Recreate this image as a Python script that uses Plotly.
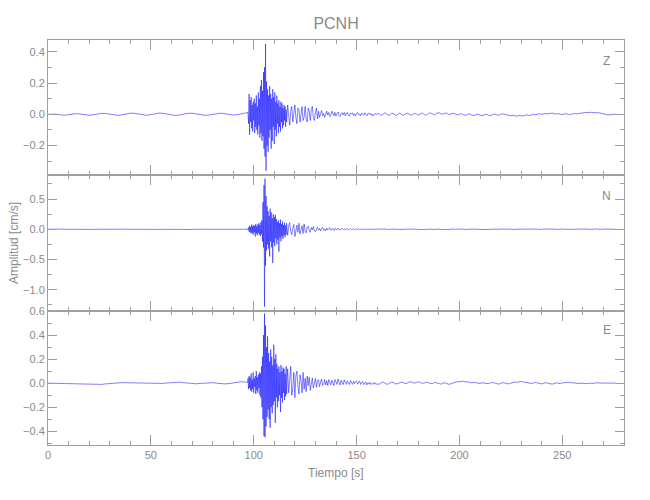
import numpy as np
import plotly.graph_objects as go
from plotly.subplots import make_subplots

# Sampling segments of the record: (start time [s], sample interval [s])
SEG_PRE = (0.0, 2.0)
SEG_MAIN = (96.25, 0.25)
SEG_CODA = (116.5, 0.5)
SEG_TAIL = (161.0, 1.0)

STATION = "PCNH"
COMPONENTS = ["Z", "N", "E"]
X_TICKS = [0, 50, 100, 150, 200, 250]

# ---------------- Z component (cm/s) ----------------
z_pre = [0.000, 0.002, 0.001, -0.003, -0.006, -0.002, 0.003, 0.004, 0.001, -0.004,
         -0.006, -0.003, 0.002, 0.006, 0.005, 0.000, -0.005, -0.007, -0.003, 0.003,
         0.007, 0.006, 0.001, -0.004, -0.006, -0.002, 0.004, 0.008, 0.006, 0.000,
         -0.005, -0.008, -0.004, 0.002, 0.006, 0.007, 0.003, -0.003, -0.006, -0.005,
         0.000, 0.005, 0.007, 0.004, -0.002, -0.005, -0.003, 0.004, 0.010]
z_main = [0.008, 0.010, 0.006, 0.012, 0.004, -0.06, 0.13, -0.13, 0.09, -0.05,
          0.11, -0.09, 0.06, -0.11, 0.08, -0.04, 0.10, -0.12, 0.07, -0.08,
          0.12, -0.10, 0.05, -0.13, 0.14, -0.07, 0.10, -0.15, 0.18, -0.12,
          0.22, -0.17, 0.15, -0.14, 0.27, -0.22, 0.30, -0.27, 0.45, -0.36,
          0.21, -0.20, 0.16, -0.24, 0.12, -0.15, 0.18, -0.10, 0.13, -0.22,
          0.10, -0.17, 0.16, -0.08, 0.11, -0.19, 0.14, -0.10, 0.08, -0.14,
          0.12, -0.06, 0.07, -0.12, 0.09, -0.08, 0.05, -0.11, 0.08, -0.05,
          0.07, -0.09, 0.04, -0.07, 0.06, -0.04, 0.05, -0.08, 0.03, -0.05]
z_coda = [0.06, -0.03, -0.07, 0.02, 0.05, -0.05, 0.01, 0.06, -0.02, -0.06,
          0.04, 0.03, -0.05, 0.00, 0.05, -0.04, -0.02, 0.05,
          -0.03, -0.05, 0.04, 0.02, -0.04, 0.03, 0.05, -0.02, -0.04, 0.01,
          0.04, -0.03, 0.02, -0.02,
          0.015, 0.025, -0.01, 0.005, -0.02, 0.01, 0.02, -0.005, 0.012, -0.015,
          -0.005, 0.02, 0.008, -0.01, 0.012, -0.012, 0.005, 0.015, -0.008, -0.015,
          0.006, 0.01, -0.004, 0.012, -0.01, 0.004,
          0.012, -0.006, -0.012, 0.008, 0.002, 0.01, -0.008, 0.004, -0.01, 0.006,
          0.012, -0.004, 0.002, -0.01, 0.008, 0.004, -0.006, 0.01, -0.004, -0.01,
          0.006, 0.002, 0.008, -0.006, 0.003, -0.012, -0.004, 0.006, -0.002, 0.004]
z_tail = [0.005, -0.008, 0.002, 0.010, -0.004, -0.006, 0.006, 0.004, -0.008, 0.000,
          0.008, -0.003, -0.006, 0.005, 0.007, -0.004, -0.005, 0.006, 0.003, -0.006,
          0.001, 0.008, -0.002, -0.005, 0.006, 0.009, 0.002, -0.003, 0.007, 0.010,
          0.004, 0.000, 0.008, 0.006, -0.002, 0.002, 0.007, 0.003, -0.004, 0.001,
          0.004, -0.003, -0.006, 0.000, 0.003, -0.005, -0.008, -0.002, 0.001, -0.006,
          -0.009, -0.004, 0.000, -0.005, -0.008, -0.003, 0.002, -0.002, -0.006, -0.001,
          0.003, 0.000, -0.004, -0.008, -0.010, -0.006, -0.009, -0.012, -0.007, -0.010,
          -0.011, -0.006, -0.004, -0.008, -0.005, 0.000, -0.003, 0.002, 0.004, 0.000,
          0.003, 0.006, 0.002, 0.005, 0.008, 0.004, 0.001, 0.005, 0.003, -0.002,
          0.001, 0.004, 0.000, -0.003, 0.002, 0.005, 0.003, 0.006, 0.009, 0.008,
          0.011, 0.012, 0.010, 0.013, 0.011, 0.012, 0.009, 0.010, 0.006, 0.002,
          -0.002, -0.004, -0.003, -0.001, 0.000, 0.001]

# ---------------- N component (cm/s) ----------------
n_pre = [0.000, 0.004, 0.006, 0.003, 0.000, -0.002, 0.000, 0.002, 0.001, -0.001,
         -0.003, -0.002, 0.000, 0.002, 0.001, -0.001, -0.002, 0.000, 0.003, 0.002,
         0.000, -0.002, -0.003, -0.001, 0.001, 0.002, 0.000, -0.002, -0.001, 0.001,
         0.003, 0.002, 0.000, -0.002, -0.003, 0.000, 0.002, 0.003, 0.001, -0.001,
         -0.002, 0.000, 0.002, 0.004, 0.002, 0.000, -0.003, 0.000, 0.004]
n_main = [0.000, 0.002, -0.002, 0.004, -0.01, 0.03, -0.04, 0.06, -0.05, 0.04,
          -0.07, 0.08, -0.06, 0.05, -0.09, 0.07, -0.05, 0.06, -0.12, 0.09,
          -0.07, 0.05, -0.10, 0.08, -0.06, 0.10, -0.09, 0.07, -0.11, 0.12,
          -0.08, 0.15, -0.20, 0.45, -0.30, 0.73, -1.28, 0.84, -0.60, 0.55,
          -0.35, 0.38, -0.25, 0.30, -0.32, 0.22, -0.45, 0.34, -0.20, 0.28,
          -0.30, 0.18, -0.56, 0.25, -0.22, 0.20, -0.28, 0.24, -0.15, 0.17,
          -0.25, 0.12, -0.18, 0.15, -0.37, 0.10, -0.14, 0.16, -0.20, 0.09,
          -0.12, 0.13, -0.16, 0.07, -0.10, 0.11, -0.13, 0.06, -0.09, 0.10]
n_coda = [-0.10, 0.06, 0.11, -0.04, -0.09, 0.02, 0.08, -0.12, 0.03, 0.07,
          -0.05, 0.10, -0.08, -0.02, 0.06, -0.07, 0.09, -0.03,
          -0.06, 0.04, 0.05, -0.02, -0.05, 0.03, -0.01, 0.045, -0.03, -0.04,
          0.02, 0.035, -0.015, 0.01, -0.03, 0.02, 0.03, -0.02, 0.005, -0.025,
          0.02, -0.01, 0.015, 0.025, -0.015, -0.005, 0.01, -0.02, 0.015, 0.005,
          -0.012, 0.018, -0.008, -0.015, 0.01, 0.012, -0.006, 0.004, -0.012, 0.01,
          0.006, -0.01, 0.004, 0.012, -0.006, -0.002, 0.008, -0.01, 0.003, 0.007,
          -0.004, 0.009, -0.008, 0.002, 0.005, -0.006, 0.008, -0.002, -0.007, 0.004,
          0.006, -0.005, 0.002, -0.004, 0.006, 0.001, -0.006, 0.004, 0.003, -0.003]
n_tail = [0.004, -0.003, 0.002, 0.005, -0.002, -0.004, 0.003, 0.002, -0.005, 0.001,
          0.004, -0.002, -0.004, 0.003, 0.005, -0.001, -0.003, 0.004, 0.002, -0.004,
          0.000, 0.005, -0.002, -0.003, 0.004, 0.003, -0.004, -0.001, 0.005, 0.002,
          -0.003, 0.001, 0.004, -0.002, -0.004, 0.002, 0.005, 0.000, -0.003, 0.003,
          0.004, -0.002, -0.005, 0.001, 0.003, -0.003, -0.002, 0.004, 0.002, -0.004,
          -0.001, 0.003, 0.004, -0.002, -0.003, 0.002, 0.004, -0.001, -0.004, 0.002,
          0.005, 0.001, -0.003, 0.000, 0.004, -0.002, -0.005, 0.002, 0.003, -0.002,
          -0.004, 0.001, 0.004, 0.002, -0.003, -0.001, 0.004, 0.003, -0.002, -0.004,
          0.002, 0.005, 0.000, -0.003, 0.002, 0.004, -0.002, -0.003, 0.003, 0.001,
          -0.004, 0.000, 0.004, 0.002, -0.003, -0.002, 0.003, 0.005, 0.000, -0.003,
          0.002, 0.004, -0.001, -0.004, 0.001, 0.005, 0.002, -0.003, -0.001, 0.004,
          0.003, -0.002, -0.003, 0.002, 0.003, 0.000]

# ---------------- E component (cm/s) ----------------
e_pre = [0.000, 0.001, 0.000, -0.002, -0.003, -0.004, -0.004, -0.003, -0.006, -0.010,
         -0.012, -0.013, -0.012, -0.010, -0.006, -0.002, 0.002, 0.004, 0.005, 0.004,
         0.003, 0.004, 0.006, 0.005, 0.002, 0.000, -0.002, -0.004, -0.002, 0.002,
         0.006, 0.009, 0.008, 0.004, 0.000, -0.003, -0.005, -0.002, 0.002, 0.005,
         0.004, 0.000, -0.004, -0.006, -0.003, 0.002, 0.008, 0.012, 0.010]
e_main = [0.010, 0.008, 0.012, 0.006, 0.04, -0.05, 0.06, -0.04, 0.05, -0.06,
          0.08, -0.07, 0.03, -0.05, 0.09, -0.08, 0.04, -0.03, 0.06, -0.09,
          0.10, -0.06, 0.05, -0.08, 0.07, -0.04, 0.09, -0.10, 0.08, -0.12,
          0.14, -0.20, 0.22, -0.30, 0.40, -0.44, 0.58, -0.45, 0.48, -0.36,
          0.30, -0.28, 0.39, -0.22, 0.25, -0.30, 0.18, -0.37, 0.28, -0.20,
          0.22, -0.25, 0.15, -0.18, 0.32, -0.15, 0.20, -0.33, 0.24, -0.12,
          0.16, -0.20, 0.12, -0.15, 0.14, -0.10, 0.09, -0.24, 0.15, -0.12,
          0.10, -0.16, 0.13, -0.08, 0.12, -0.14, 0.08, -0.11, 0.14, -0.09]
e_coda = [0.12, -0.08, 0.03, 0.14, -0.10, -0.04, 0.09, -0.12, 0.06, 0.10,
          -0.03, -0.09, 0.07, 0.02, -0.08, 0.09, -0.05, 0.04,
          -0.07, 0.06, -0.02, 0.05, -0.06, 0.02, 0.045, -0.04, -0.01, 0.04,
          -0.035, 0.02, 0.03, -0.03, 0.01, 0.035, -0.02, -0.01, 0.03, -0.015,
          0.02, -0.02, 0.03, 0.01, -0.015, 0.025, 0.005, -0.02, 0.03, 0.015,
          -0.01, 0.035, 0.00, -0.015, 0.025, 0.01, -0.012, 0.028, 0.004, -0.01,
          0.02, 0.008, -0.012, 0.022, 0.004, -0.01, 0.016, -0.004, 0.012, 0.02,
          -0.008, 0.006, 0.018, -0.01, 0.004, 0.014, -0.012, 0.002, 0.01, -0.014,
          0.004, -0.008, 0.008, -0.012, -0.002, 0.006, -0.01, 0.004, -0.008, -0.006]
e_tail = [-0.008, 0.004, 0.010, -0.002, -0.010, 0.000, 0.008, 0.004, -0.006, -0.004,
          0.006, 0.010, 0.002, -0.004, 0.004, 0.012, 0.008, 0.000, 0.006, 0.011,
          0.006, -0.002, 0.002, 0.008, 0.004, -0.004, -0.002, 0.006, 0.002, -0.006,
          -0.008, 0.000, 0.004, -0.004, -0.010, -0.004, 0.004, 0.008, 0.012, 0.010,
          0.014, 0.016, 0.010, 0.012, 0.008, 0.002, 0.006, 0.004, -0.004, -0.002,
          0.004, 0.000, -0.006, -0.004, 0.002, 0.006, 0.002, -0.004, -0.008, -0.002,
          0.004, 0.002, -0.004, -0.006, 0.000, 0.006, 0.010, 0.008, 0.012, 0.014,
          0.010, 0.006, 0.008, 0.004, -0.002, 0.002, 0.006, 0.002, -0.004, -0.006,
          0.000, 0.004, 0.000, -0.006, -0.008, -0.004, 0.002, 0.000, -0.004, 0.002,
          0.006, 0.010, 0.008, 0.004, 0.006, 0.002, -0.002, 0.000, 0.004, 0.000,
          -0.004, -0.002, 0.002, 0.000, -0.002, 0.002, 0.004, 0.002, -0.002, 0.000,
          0.002, 0.000, -0.002, 0.000, 0.002, 0.000]


def build(pre, main, coda, tail):
    t, v = [], []
    for (start, dt), vals in zip([SEG_PRE, SEG_MAIN, SEG_CODA, SEG_TAIL],
                                 [pre, main, coda, tail]):
        t.extend(start + dt * np.arange(len(vals)))
        v.extend(vals)
    return np.array(t), np.array(v)


traces = [build(z_pre, z_main, z_coda, z_tail),
          build(n_pre, n_main, n_coda, n_tail),
          build(e_pre, e_main, e_coda, e_tail)]

FONT = "Liberation Sans, Arial, sans-serif"
AXC = "#a0a0a0"
TXC = "#8a8a8a"

fig = make_subplots(rows=3, cols=1, shared_xaxes=True, vertical_spacing=0)
for i, (t, v) in enumerate(traces):
    fig.add_trace(go.Scatter(x=t, y=v, mode="lines",
                             line=dict(color="#0000ff", width=0.5),
                             showlegend=False, hoverinfo="skip"),
                  row=i + 1, col=1)

common = dict(showline=True, linecolor=AXC, linewidth=1, mirror="allticks",
              ticks="inside", tickcolor=AXC, tickwidth=1, showgrid=False,
              zeroline=False, tickfont=dict(family=FONT, size=11, color=TXC))

y_ranges = [[-0.388, 0.475], [-1.353, 0.899], [-0.514, 0.6005]]
y_dticks = [0.2, 0.5, 0.2]
y_minor = [0.1, 0.25, 0.1]
y_domains = [[0.6667, 1.0], [0.3309, 0.6667], [0.0, 0.3309]]

for i in range(3):
    fig.update_yaxes(range=y_ranges[i], dtick=y_dticks[i], tick0=0,
                     tickformat=".1f", ticklen=9, domain=y_domains[i],
                     minor=dict(ticks="inside", dtick=y_minor[i], ticklen=4,
                                tickcolor=AXC, showgrid=False),
                     row=i + 1, col=1, **common)
    fig.update_xaxes(range=[0, 280], tickvals=X_TICKS, ticklen=10,
                     minor=dict(ticks="inside", dtick=10, tick0=0, ticklen=4,
                                tickcolor=AXC, showgrid=False),
                     row=i + 1, col=1, **common)

label_y = [0.844, 0.846, 0.858]
for i, comp in enumerate(COMPONENTS):
    yref = "y domain" if i == 0 else f"y{i + 1} domain"
    fig.add_annotation(text=comp, xref="paper", yref=yref, x=0.970, y=label_y[i],
                       showarrow=False, xanchor="center", yanchor="middle",
                       font=dict(family=FONT, size=12, color=TXC))

fig.add_annotation(text="Tiempo [s]", xref="paper", yref="paper",
                   x=0.5, y=-0.069, showarrow=False, xanchor="center",
                   yanchor="middle", font=dict(family=FONT, size=12, color=TXC))
fig.add_annotation(text="Amplitud [cm/s]", xref="paper", yref="paper",
                   x=-0.059, y=0.499, textangle=-90, showarrow=False,
                   xanchor="center", yanchor="middle",
                   font=dict(family=FONT, size=12, color=TXC))

fig.update_layout(
    width=650, height=500, autosize=False,
    margin=dict(l=48, r=26, t=40, b=55),
    paper_bgcolor="white", plot_bgcolor="white",
    title=dict(text=STATION, x=0.517, xanchor="center", y=0.954, yanchor="middle",
               font=dict(family=FONT, size=16, color=TXC)),
)

fig.write_html("out.html", config={"displayModeBar": False},
               post_script="document.body.style.margin='0px';")
